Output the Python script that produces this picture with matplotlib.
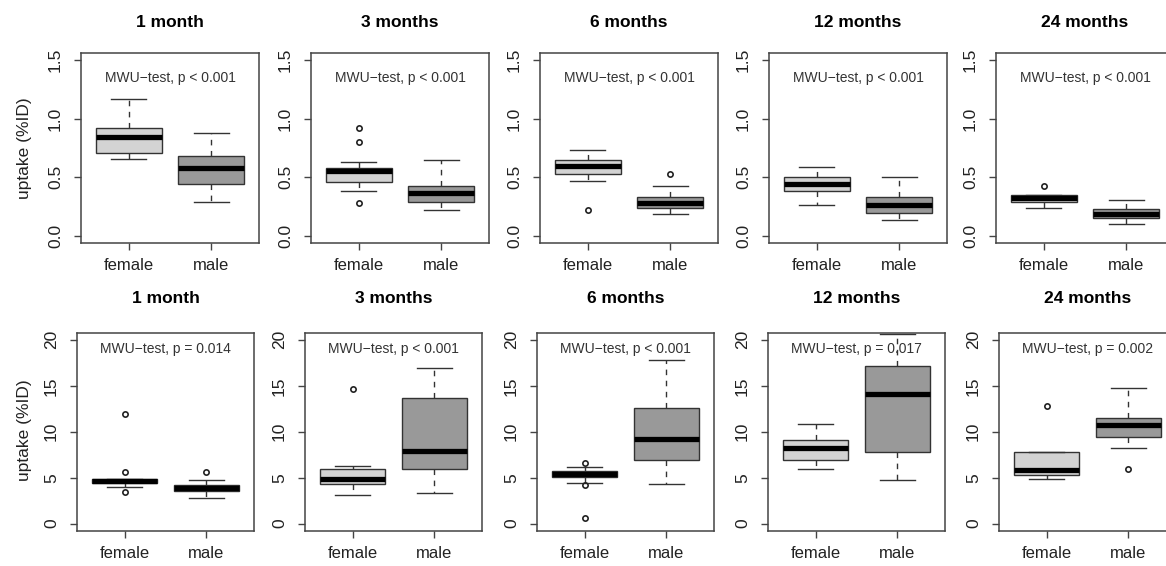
import matplotlib
matplotlib.use("Agg")
import matplotlib.pyplot as plt

plt.rcParams['font.family'] = ['Liberation Sans', 'DejaVu Sans']

months = ['1 month', '3 months', '6 months', '12 months', '24 months']
groups = ['female', 'male']

# box stats per month: [whisker low, q1, median, q3, whisker high]
# top row: uptake in %ID, 0..1.5 scale
top_female = [[0.66, 0.71, 0.84, 0.92, 1.17],
              [0.38, 0.46, 0.55, 0.58, 0.63],
              [0.47, 0.53, 0.60, 0.65, 0.73],
              [0.26, 0.38, 0.44, 0.50, 0.59],
              [0.24, 0.29, 0.32, 0.35, 0.35]]
top_male = [[0.29, 0.44, 0.58, 0.68, 0.88],
            [0.22, 0.29, 0.37, 0.43, 0.65],
            [0.19, 0.24, 0.28, 0.33, 0.43],
            [0.14, 0.20, 0.26, 0.33, 0.50],
            [0.10, 0.15, 0.19, 0.23, 0.31]]
top_female_out = [[], [0.92, 0.80, 0.28], [0.22], [], [0.43]]
top_male_out = [[], [], [0.53], [], []]
top_p = ['p < 0.001'] * 5

# bottom row: uptake in %ID, 0..20 scale
bot_female = [[4.0, 4.4, 4.65, 4.85, 4.9],
              [3.15, 4.3, 4.9, 6.0, 6.3],
              [4.4, 5.1, 5.4, 5.7, 6.2],
              [6.0, 6.9, 8.2, 9.1, 10.8],
              [4.85, 5.25, 5.85, 7.85, 7.85]]
bot_male = [[2.8, 3.6, 3.9, 4.25, 4.7],
            [3.35, 6.0, 7.9, 13.65, 16.9],
            [4.3, 6.95, 9.25, 12.55, 17.8],
            [4.7, 7.8, 14.15, 17.2, 20.65],
            [8.2, 9.4, 10.75, 11.55, 14.8]]
bot_female_out = [[11.9, 5.6, 3.4], [14.6], [6.6, 4.25, 0.6], [], [12.8]]
bot_male_out = [[5.6], [], [], [], [6.0]]
bot_p = ['p = 0.014', 'p < 0.001', 'p < 0.001', 'p = 0.017', 'p = 0.002']

W, H = 1166, 566
fig = plt.figure(figsize=(W / 100, H / 100), dpi=100)

# panel boxes in pixels (left, top, width, height)
top_lefts = [81, 311, 540, 769, 996]
bot_lefts = [77, 305, 537, 768, 999]


def stats(s, out, label):
    return dict(whislo=s[0], q1=s[1], med=s[2], q3=s[3], whishi=s[4],
                fliers=out, label=label)


def panel(left, top, w, h, fem, mal, fem_out, mal_out, title, ptxt,
          ylim, yticks, ylabels, ptext_y, title_pad):
    ax = fig.add_axes([left / W, 1 - (top + h) / H, w / W, h / H])
    bx = ax.bxp([stats(fem, fem_out, 'female'), stats(mal, mal_out, 'male')],
                positions=[1, 2], widths=0.8, patch_artist=True,
                capwidths=0.42,
                boxprops=dict(edgecolor='#333333', linewidth=1.0),
                medianprops=dict(color='black', linewidth=3.8,
                                 solid_capstyle='butt'),
                whiskerprops=dict(color='#333333', linewidth=1.0,
                                  linestyle=(0, (4, 4))),
                capprops=dict(color='#333333', linewidth=1.0),
                flierprops=dict(marker='o', markerfacecolor='none',
                                markeredgecolor='#222222', markersize=3.8,
                                markeredgewidth=1.2))
    bx['boxes'][0].set_facecolor('#d3d3d3')
    bx['boxes'][1].set_facecolor('#999999')
    ax.set_xlim(0.42, 2.58)
    ax.set_ylim(*ylim)
    ax.set_yticks(yticks)
    ax.set_yticklabels(ylabels, rotation=90, va='center')
    ax.set_xticks([1, 2])
    ax.set_xticklabels(groups)
    ax.tick_params(axis='both', direction='out', length=5, width=1.0,
                   color='#444444', labelsize=12, labelcolor='#222222')
    ax.tick_params(axis='y', pad=8, labelsize=12.5)
    ax.tick_params(axis='x', pad=6)
    for sp in ax.spines.values():
        sp.set_color('#444444')
        sp.set_linewidth(1.1)
    ax.set_title(title, fontsize=12.5, fontweight='bold', pad=title_pad)
    ax.text(1.5, ptext_y, 'MWU\u2212test, ' + ptxt, ha='center',
            va='center', fontsize=10, color='#333333')
    return ax


for i in range(5):
    panel(top_lefts[i], 53, 178, 190, top_female[i], top_male[i],
          top_female_out[i], top_male_out[i], months[i], top_p[i],
          (-0.06, 1.56), [0, 0.5, 1.0, 1.5], ['0.0', '0.5', '1.0', '1.5'],
          1.345, 19)
    panel(bot_lefts[i], 332.5, 177, 198.5, bot_female[i], bot_male[i],
          bot_female_out[i], bot_male_out[i], months[i], bot_p[i],
          (-0.8, 20.8), [0, 5, 10, 15, 20], ['0', '5', '10', '15', '20'],
          19.0, 21)

fig.text(25 / W, 1 - 148 / H, 'uptake (%ID)', rotation=90, ha='center',
         va='center', fontsize=12.5, color='#222222')
fig.text(25 / W, 1 - 430 / H, 'uptake (%ID)', rotation=90, ha='center',
         va='center', fontsize=12.5, color='#222222')

fig.savefig('out.png', dpi=100)
